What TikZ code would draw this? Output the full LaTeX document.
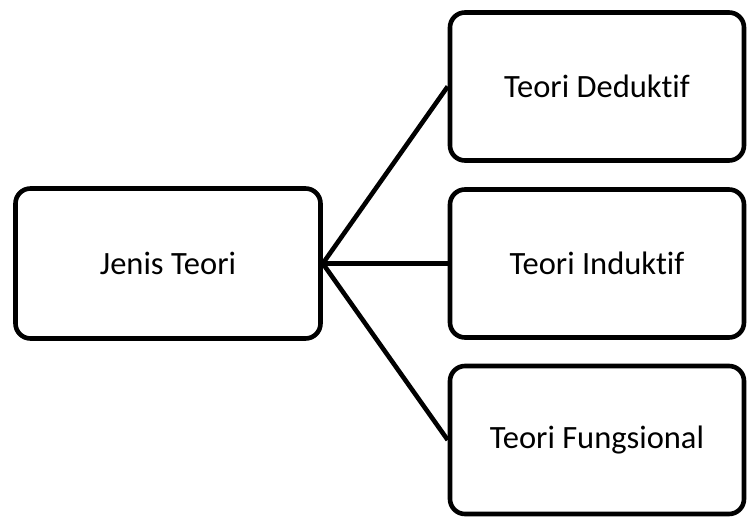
\documentclass[tikz,border=0pt]{standalone}
\usepackage{fontspec}
\setmainfont{Carlito}[Ligatures={NoCommon,NoContextual}]
\begin{document}
\begin{tikzpicture}[x=1pt,y=-1pt,
  box/.style={draw=black, line width=4.6pt, rounded corners=15pt, fill=white,
    font=\fontsize{32.5}{38}\selectfont, inner sep=0pt},
  rootbox/.style={box, minimum width=305pt, minimum height=150pt},
  leafbox/.style={box, minimum width=294pt, minimum height=148pt},
  link/.style={draw=black, line width=4.6pt}]
  \useasboundingbox (0,0) rectangle (747,518);
  % root of the tree
  \node[rootbox] (root) at (168,263.5) {Jenis Teori};
  % three kinds of theory
  \node[leafbox] (ded) at (597,86.5) {Teori Deduktif};
  \node[leafbox] (ind) at (597,263.5) {Teori Induktif};
  \node[leafbox] (fun) at (597,440) {Teori Fungsional};
  % branches
  \draw[link] (root.east) -- (ded.west);
  \draw[link] (root.east) -- (ind.west);
  \draw[link] (root.east) -- (fun.west);
\end{tikzpicture}
\end{document}
